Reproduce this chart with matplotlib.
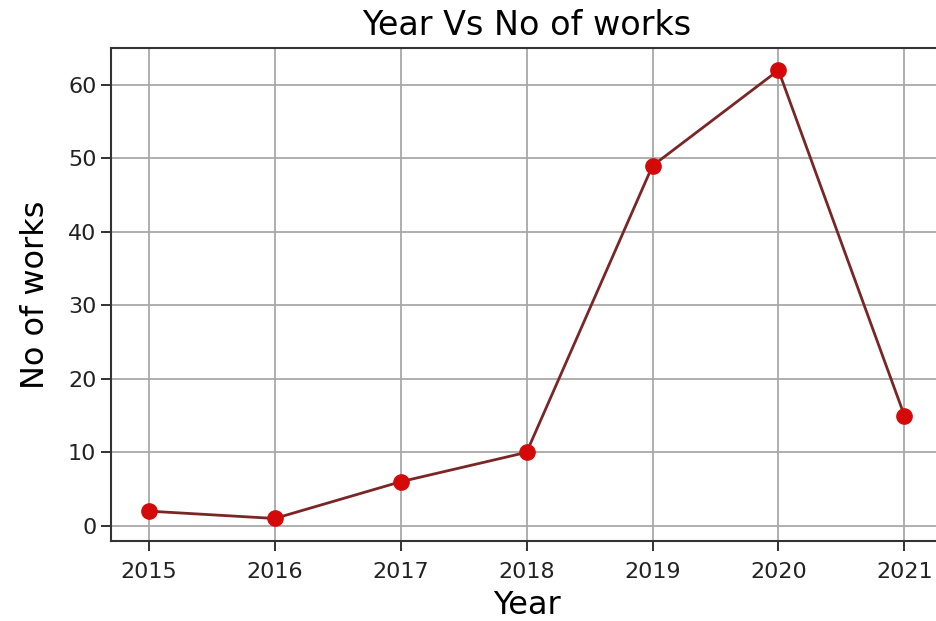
import matplotlib
matplotlib.use("Agg")
import matplotlib.pyplot as plt

years = [2015, 2016, 2017, 2018, 2019, 2020, 2021]
works = [2, 1, 6, 10, 49, 62, 15]
yticks = [0, 10, 20, 30, 40, 50, 60]

fig = plt.figure(figsize=(9.36, 6.21), dpi=100)
ax = fig.add_axes([0.1186, 0.129, 0.888, 0.794])

ax.plot(years, works, color="#7a2626", linewidth=2.0,
        marker="o", markersize=11, markerfacecolor="#d40a0a",
        markeredgecolor="#d40a0a")

ax.set_xticks(years)
ax.set_yticks(yticks)
ax.grid(True, color="#a8a8a8", linewidth=1.3)
ax.set_axisbelow(True)

ax.tick_params(labelsize=16, length=7, width=1.3, colors="#222222")
ax.tick_params(axis="x", pad=8)
for s in ax.spines.values():
    s.set_linewidth(1.5)
    s.set_color("#333333")

ax.set_title("Year Vs No of works", fontsize=24, pad=9)
ax.set_xlabel("Year", fontsize=23, labelpad=6)
ax.set_ylabel("No of works", fontsize=23, labelpad=12)

fig.savefig("out.png", dpi=100)
